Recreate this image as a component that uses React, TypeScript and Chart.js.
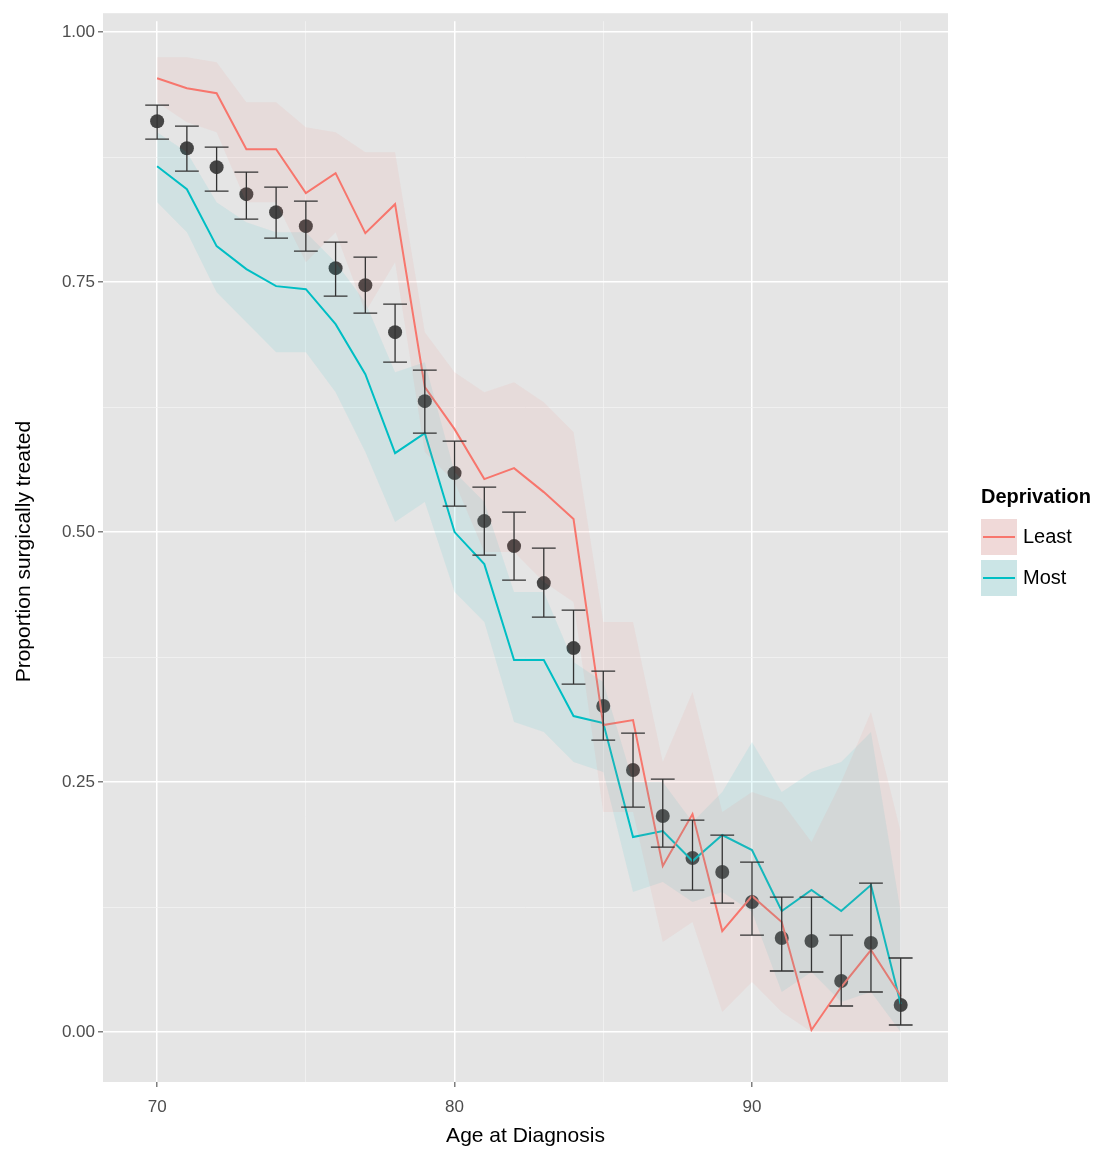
import { useRef, useEffect } from "react";
import { Chart, registerables } from "chart.js";

Chart.register(...registerables);

const ages = [70, 71, 72, 73, 74, 75, 76, 77, 78, 79, 80, 81, 82, 83, 84, 85, 86, 87, 88, 89, 90, 91, 92, 93, 94, 95];

const overall = [0.911, 0.884, 0.865, 0.838, 0.82, 0.806, 0.764, 0.747, 0.7, 0.631, 0.559, 0.511, 0.486, 0.449, 0.384, 0.326, 0.262, 0.216, 0.174, 0.16, 0.13, 0.094, 0.091, 0.051, 0.089, 0.027];
const overallHigh = [0.927, 0.906, 0.885, 0.86, 0.845, 0.831, 0.79, 0.775, 0.728, 0.662, 0.591, 0.545, 0.52, 0.484, 0.422, 0.361, 0.299, 0.253, 0.212, 0.197, 0.17, 0.135, 0.135, 0.097, 0.149, 0.074];
const overallLow = [0.893, 0.861, 0.841, 0.813, 0.794, 0.781, 0.736, 0.719, 0.67, 0.599, 0.526, 0.477, 0.452, 0.415, 0.348, 0.292, 0.225, 0.185, 0.142, 0.129, 0.097, 0.061, 0.06, 0.026, 0.04, 0.007];

const least = [0.954, 0.944, 0.939, 0.883, 0.883, 0.839, 0.859, 0.799, 0.828, 0.645, 0.603, 0.553, 0.564, 0.54, 0.513, 0.307, 0.312, 0.166, 0.218, 0.101, 0.136, 0.11, 0.002, 0.045, 0.082, 0.036];
const leastHigh = [0.975, 0.975, 0.97, 0.93, 0.93, 0.905, 0.9, 0.88, 0.88, 0.7, 0.66, 0.64, 0.65, 0.63, 0.6, 0.41, 0.41, 0.27, 0.34, 0.22, 0.24, 0.23, 0.19, 0.25, 0.32, 0.2];
const leastLow = [0.93, 0.91, 0.9, 0.83, 0.83, 0.77, 0.8, 0.72, 0.77, 0.58, 0.55, 0.48, 0.48, 0.45, 0.43, 0.22, 0.22, 0.09, 0.11, 0.02, 0.05, 0.02, 0, 0, 0, 0];

const most = [0.866, 0.843, 0.786, 0.763, 0.746, 0.743, 0.708, 0.658, 0.579, 0.599, 0.5, 0.468, 0.372, 0.372, 0.316, 0.309, 0.195, 0.201, 0.171, 0.197, 0.182, 0.121, 0.142, 0.121, 0.147, 0.028];
const mostHigh = [0.9, 0.88, 0.83, 0.81, 0.8, 0.8, 0.77, 0.73, 0.66, 0.67, 0.56, 0.53, 0.44, 0.44, 0.37, 0.35, 0.25, 0.25, 0.21, 0.24, 0.29, 0.24, 0.26, 0.27, 0.3, 0.12];
const mostLow = [0.83, 0.8, 0.74, 0.71, 0.68, 0.68, 0.64, 0.58, 0.51, 0.53, 0.44, 0.41, 0.31, 0.3, 0.27, 0.26, 0.14, 0.15, 0.13, 0.14, 0.12, 0.04, 0.06, 0.03, 0.04, 0];

const xTicks = [70, 75, 80, 85, 90, 95];
const yTicks = [0, 0.125, 0.25, 0.375, 0.5, 0.625, 0.75, 0.875, 1];

const RED = "#F8766D";
const TEAL = "#00BFC4";
const FONT = "'Liberation Sans', Arial, sans-serif";

const pts = (ys: number[]) => ages.map((a, i) => ({ x: a, y: ys[i] }));

const errorBars = {
  id: "errorBars",
  afterDatasetsDraw(chart: any) {
    const { ctx, scales } = chart;
    const x = scales.x, y = scales.y;
    const half = x.getPixelForValue(70.4) - x.getPixelForValue(70);
    ctx.save();
    ctx.strokeStyle = "#333";
    ctx.lineWidth = 1.3;
    ages.forEach((a, i) => {
      const px = x.getPixelForValue(a);
      const hi = y.getPixelForValue(overallHigh[i]);
      const lo = y.getPixelForValue(overallLow[i]);
      ctx.beginPath();
      ctx.moveTo(px, hi); ctx.lineTo(px, lo);
      ctx.moveTo(px - half, hi); ctx.lineTo(px + half, hi);
      ctx.moveTo(px - half, lo); ctx.lineTo(px + half, lo);
      ctx.stroke();
    });
    ctx.restore();
  },
};

const panelBg = {
  id: "panelBg",
  beforeDraw(chart: any) {
    const { ctx, chartArea: c } = chart;
    ctx.save();
    ctx.fillStyle = "#E5E5E5";
    ctx.fillRect(c.left, c.top - 8, c.right - c.left, c.bottom - c.top + 8);
    ctx.restore();
  },
};

const isMajorX = (v: number) => v % 10 === 0;
const isMajorY = (v: number) => Math.abs((v * 4) - Math.round(v * 4)) < 1e-6;

export default function App() {
  const canvasRef = useRef<HTMLCanvasElement>(null);

  useEffect(() => {
    if (!canvasRef.current) return;
    const chart = new Chart(canvasRef.current, {
      type: "line",
      data: {
        datasets: [
          { data: pts(leastHigh), borderWidth: 0, pointRadius: 0, fill: "+1", backgroundColor: "rgba(248,118,109,0.09)" },
          { data: pts(leastLow), borderWidth: 0, pointRadius: 0, fill: false },
          { data: pts(mostHigh), borderWidth: 0, pointRadius: 0, fill: "+1", backgroundColor: "rgba(0,191,196,0.09)" },
          { data: pts(mostLow), borderWidth: 0, pointRadius: 0, fill: false },
          { data: pts(least), borderColor: RED, borderWidth: 2, pointRadius: 0, fill: false },
          { data: pts(most), borderColor: TEAL, borderWidth: 2, pointRadius: 0, fill: false },
          { type: "scatter", data: pts(overall), pointRadius: 7, backgroundColor: "rgba(51,51,51,0.9)", borderWidth: 0 } as any,
        ],
      },
      options: {
        animation: false,
        responsive: false,
        layout: { padding: { top: 4, right: 164 } },
        plugins: { legend: { display: false }, tooltip: { enabled: false } },
        scales: {
          x: {
            type: "linear",
            min: 68.18,
            max: 96.59,
            afterBuildTicks: (s: any) => { s.ticks = xTicks.map((v) => ({ value: v })); },
            afterFit: (s: any) => { s.height = 71; },
            grid: {
              color: (c: any) => (isMajorX(c.tick?.value) ? "#FFFFFF" : "#F2F2F2"),
              lineWidth: (c: any) => (isMajorX(c.tick?.value) ? 1.5 : 0.8),
              tickColor: (c: any) => (isMajorX(c.tick?.value) ? "#7F7F7F" : "rgba(0,0,0,0)"),
              drawTicks: true, tickLength: 5,
            } as any,
            border: { display: false },
            ticks: {
              color: "#4D4D4D", font: { family: FONT, size: 17 }, padding: 10,
              callback: (v: any) => (isMajorX(Number(v)) ? String(v) : ""),
            },
            title: { display: true, text: "Age at Diagnosis", color: "#000", font: { family: FONT, size: 21 }, padding: { top: 0 } },
          },
          y: {
            type: "linear",
            min: -0.05,
            max: 1.011,
            afterBuildTicks: (s: any) => { s.ticks = yTicks.map((v) => ({ value: v })); },
            afterFit: (s: any) => { s.width = 95; },
            grid: {
              color: (c: any) => (isMajorY(c.tick?.value) ? "#FFFFFF" : "#F2F2F2"),
              lineWidth: (c: any) => (isMajorY(c.tick?.value) ? 1.5 : 0.8),
              tickColor: (c: any) => (isMajorY(c.tick?.value) ? "#7F7F7F" : "rgba(0,0,0,0)"),
              drawTicks: true, tickLength: 5,
            } as any,
            border: { display: false },
            ticks: {
              color: "#4D4D4D", font: { family: FONT, size: 17 },
              callback: (v: any) => (isMajorY(Number(v)) ? Number(v).toFixed(2) : ""),
            },
            title: { display: true, text: "Proportion surgically treated", color: "#000", font: { family: FONT, size: 21 } },
          },
        },
      } as any,
      plugins: [panelBg, errorBars],
    });
    return () => chart.destroy();
  }, []);

  const key = (color: string, fill: string) => (
    <span style={{ display: "inline-block", width: 36, height: 36, background: fill, position: "relative", marginRight: 6 }}>
      <span style={{ position: "absolute", left: 2, right: 2, top: 17, height: 2, background: color }} />
    </span>
  );

  return (
    <div style={{ position: "relative", width: 1104, height: 1145, fontFamily: FONT }}>
      <canvas ref={canvasRef} width={1104} height={1145} />
      <div style={{ position: "absolute", left: 973, top: 477, fontSize: 20 }}>
        <div style={{ fontWeight: "bold", marginBottom: 8 }}>Deprivation</div>
        <div style={{ display: "flex", alignItems: "center", height: 41 }}>{key(RED, "#F0D9D8")}Least</div>
        <div style={{ display: "flex", alignItems: "center", height: 41 }}>{key(TEAL, "#CBE5E6")}Most</div>
      </div>
    </div>
  );
}
